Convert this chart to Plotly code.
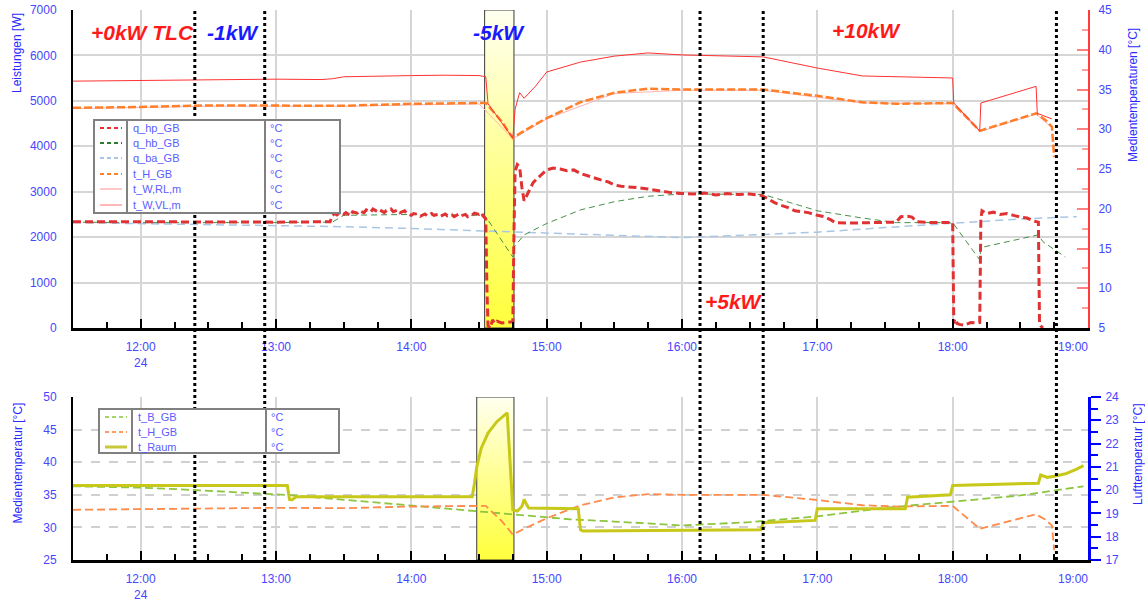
import pandas as pd
import plotly.graph_objects as go

DAY = "2024-01-24 "


def tt(times):
    full = [DAY + (t if len(t) > 5 else t + ":00") for t in times]
    return pd.to_datetime(full, format="%Y-%m-%d %H:%M:%S")


# ---------------- upper panel: powers [W] ----------------
q_hp_time = ["11:30", "12:00", "12:30", "13:00", "13:20", "13:24",
             "13:25", "13:26", "13:27", "13:28", "13:30", "13:31", "13:33", "13:34", "13:36", "13:37",
             "13:39", "13:40", "13:42", "13:43", "13:45", "13:46", "13:48", "13:49", "13:51", "13:52",
             "13:54", "13:55", "13:57", "13:58", "14:00", "14:01", "14:03", "14:04", "14:06", "14:07",
             "14:09", "14:10", "14:12", "14:13", "14:15", "14:16", "14:18", "14:19", "14:21", "14:22",
             "14:24", "14:25", "14:27", "14:28", "14:30", "14:31", "14:32", "14:33",
             "14:33:30", "14:34", "14:35", "14:36", "14:37", "14:38", "14:40", "14:42", "14:44", "14:45",
             "14:45:30", "14:46", "14:47", "14:48", "14:49", "14:50", "14:52", "14:54", "14:56", "14:58",
             "15:00", "15:03", "15:06", "15:09", "15:12", "15:15", "15:18", "15:21", "15:24", "15:27",
             "15:30", "15:33", "15:36", "15:40", "15:45", "15:50", "15:55", "16:00", "16:05", "16:10",
             "16:15", "16:20", "16:25", "16:30", "16:35", "16:38", "16:41", "16:44", "16:47", "16:50",
             "16:53", "16:56", "17:00", "17:03", "17:06", "17:08", "17:15", "17:25", "17:35", "17:37",
             "17:40", "17:42", "17:44", "17:50", "18:00", "18:00:30", "18:01", "18:02", "18:03", "18:05",
             "18:08", "18:11", "18:12", "18:12:30", "18:13", "18:15", "18:18", "18:21", "18:24", "18:27",
             "18:30", "18:33", "18:36", "18:38", "18:38:30", "18:39", "18:40"]
q_hp_GB = [2340, 2330, 2335, 2330, 2335, 2340,
           2480, 2520, 2490, 2530, 2500, 2540, 2470, 2560, 2530, 2580,
           2540, 2600, 2550, 2620, 2560, 2600, 2540, 2590, 2620, 2560,
           2600, 2540, 2580, 2520, 2480, 2520, 2500, 2460, 2510, 2470,
           2520, 2480, 2500, 2460, 2510, 2470, 2490, 2450, 2510, 2470,
           2500, 2450, 2490, 2530, 2500, 2540, 2460, 2400,
           900, 50, 0, 180, 100, 150, 110, 120, 130, 140,
           2100, 3450, 3600, 3550, 3100, 2800, 3000, 3200, 3300, 3400,
           3480, 3520, 3500, 3460, 3480, 3400, 3350, 3300, 3260, 3220,
           3150, 3120, 3100, 3090, 3060, 3020, 2980, 2960, 2950, 2970,
           2930, 2960, 2940, 2950, 2920, 2850, 2760, 2700, 2650, 2580,
           2560, 2540, 2480, 2450, 2380, 2320, 2310, 2320, 2330, 2450,
           2460, 2440, 2340, 2320, 2320, 100, 200, 100, 80, 60,
           120, 110, 120, 2400, 2580, 2520, 2550, 2500, 2520, 2480,
           2440, 2420, 2350, 2330, 100, 50, 0]

q_hb_time = ["11:30", "12:00", "13:00", "13:25", "13:30", "14:00", "14:30", "14:33", "14:45", "14:45:30",
             "14:50", "15:00", "15:15", "15:30", "15:45", "16:00", "16:36", "17:00", "17:20", "17:35",
             "18:00", "18:12", "18:12:30", "18:38", "18:40", "18:50"]
q_hb_GB = [2330, 2320, 2320, 2330, 2480, 2500, 2480, 2450, 1560, 1780,
           2050, 2300, 2600, 2780, 2900, 2950, 2940, 2580, 2420, 2320,
           2320, 1500, 1770, 2050, 1900, 1560]

q_ba_time = ["11:30", "12:00", "12:30", "13:00", "13:30", "14:00", "14:30", "15:00", "15:30", "16:00",
             "16:36", "17:00", "17:30", "18:00", "18:30", "18:55"]
q_ba_GB = [2320, 2300, 2280, 2260, 2230, 2190, 2140, 2100, 2040, 1990,
           2060, 2110, 2210, 2310, 2400, 2450]

# ---------------- media temperatures [°C] ----------------
t_H_time = ["11:30", "12:00", "12:30", "13:00", "13:30", "14:00", "14:30", "14:33", "14:40", "14:45",
            "14:50", "15:00", "15:15", "15:30", "15:45", "16:00", "16:36", "17:00", "17:20", "17:35",
            "18:00", "18:12", "18:37", "18:41", "18:44", "18:45"]
t_H_GB = [32.7, 32.8, 33.0, 33.0, 32.95, 33.2, 33.3, 33.3, 31.0, 28.9,
          29.8, 31.4, 33.4, 34.6, 35.1, 35.0, 35.0, 34.2, 33.4, 33.2,
          33.3, 29.8, 32.0, 31.2, 30.3, 26.5]

t_RL_time = ["11:30", "12:30", "13:30", "14:30", "14:45", "15:00", "15:30", "16:00", "16:36", "17:20",
             "18:00", "18:12", "18:37", "18:44"]
t_W_RL_m = [32.6, 32.9, 32.9, 33.2, 28.8, 31.3, 34.5, 34.9, 34.9, 33.3,
            33.2, 29.7, 31.9, 30.2]

t_VL_time = ["11:30", "12:00", "12:30", "13:00", "13:20", "13:25", "13:30", "13:45", "14:00", "14:15",
             "14:30", "14:33", "14:34", "14:45", "14:46", "14:48", "14:50", "14:55", "15:00", "15:15",
             "15:30", "15:45", "16:00", "16:36", "17:00", "17:20", "17:35", "17:55", "18:00", "18:00:30",
             "18:12", "18:12:30", "18:37", "18:37:30", "18:44"]
t_W_VL_m = [36.05, 36.15, 36.25, 36.3, 36.25, 36.35, 36.6, 36.7, 36.75, 36.8,
            36.75, 36.6, 33.2, 28.9, 32.5, 34.6, 33.9, 35.4, 37.2, 38.45,
            39.2, 39.6, 39.35, 39.1, 37.7, 36.7, 36.6, 36.45, 36.45, 33.3,
            29.8, 33.3, 35.4, 32.0, 31.3]

# ---------------- lower panel ----------------
t_B_time = ["11:30", "12:00", "12:17", "13:06", "13:40", "14:25", "15:10", "15:30",
            "16:00", "16:30", "17:00", "17:30", "18:00", "18:30", "18:58"]
t_B_GB = [36.3, 36.1, 35.85, 34.95, 33.95, 32.65, 31.25, 30.9,
          30.3, 30.8, 31.7, 33.0, 34.0, 34.9, 36.3]

t_Raum_time = ["11:30", "13:05", "13:06", "13:07", "13:09", "14:27", "14:28", "14:29", "14:31", "14:34",
               "14:38", "14:42", "14:42:30", "14:45", "14:47", "14:49", "14:50", "14:51", "14:52", "15:14",
               "15:15", "15:16", "16:35", "16:36", "16:59", "17:00", "17:39", "17:40", "17:59", "18:00",
               "18:38", "18:39", "18:42", "18:45", "18:50", "18:55", "18:58"]
t_Raum = [20.2, 20.2, 19.6, 19.58, 19.72, 19.72, 20.3, 21.0, 21.8, 22.45,
          22.95, 23.3, 23.32, 19.15, 19.1, 19.3, 19.6, 19.4, 19.23, 19.2,
          18.3, 18.25, 18.3, 18.6, 18.7, 19.2, 19.2, 19.7, 19.8, 20.2,
          20.3, 20.65, 20.55, 20.6, 20.7, 20.9, 21.05]

# ---------------- events ----------------
box_top_time = ["14:32:30", "14:45:30"]
box_bottom_time = ["14:29", "14:45:30"]
event_times = ["12:24", "12:55", "16:08", "16:36", "18:46"]
labels = ["+0kW TLC", "-1kW", "-5kW", "+10kW", "+5kW"]
label_time = ["12:01", "12:41", "14:39", "17:22", "16:23"]
label_watt = [6500, 6500, 6500, 6540, 580]
label_color = ["#ff1a1a", "#1a1aff", "#1a1aff", "#ff1a1a", "#ff1a1a"]

hour_ticks = ["12:00", "13:00", "14:00", "15:00", "16:00", "17:00", "18:00", "19:00"]
hour_text = ["12:00<br>24", "13:00", "14:00", "15:00", "16:00", "17:00", "18:00",
             "19:00" + "\u00a0" * 9]

FONT = "Arial, Liberation Sans, sans-serif"
BLUE_TXT = "#4646ff"

# plot area in pixels: x 73..1088, y 10..560
W, H = 1145, 602
ML, MR, MT, MB = 73, 57, 10, 42


def px_x(px):
    return (px - ML) / (W - ML - MR)


def px_y(py):
    return (H - MB - py) / (H - MT - MB)


fig = go.Figure()


def gradient_box(times, y_lo, y_hi, xa, ya):
    t = tt(times)
    fig.add_trace(go.Scatter(
        x=[t[0], t[1], t[1], t[0], t[0]], y=[y_lo, y_lo, y_hi, y_hi, y_lo],
        xaxis=xa, yaxis=ya, mode="lines", fill="toself",
        line=dict(color="#3a3a3a", width=1),
        fillgradient=dict(type="vertical",
                          colorscale=[[0, "#ffff3c"], [0.5, "#ffff90"], [1, "#fffff0"]]),
        hoverinfo="skip", showlegend=False))


gradient_box(box_top_time, 0, 7000, "x2", "y")
gradient_box(box_bottom_time, 25, 50, "x", "y3")

# upper panel series
fig.add_trace(go.Scatter(x=tt(q_ba_time), y=q_ba_GB, xaxis="x2", yaxis="y", mode="lines",
                         line=dict(color="#a9c6e6", width=1.5, dash="8px,5px"), name="q_ba_GB"))
fig.add_trace(go.Scatter(x=tt(q_hb_time), y=q_hb_GB, xaxis="x2", yaxis="y", mode="lines",
                         line=dict(color="#4a8f4a", width=1, dash="6px,4px"), name="q_hb_GB"))
fig.add_trace(go.Scatter(x=tt(q_hp_time), y=q_hp_GB, xaxis="x2", yaxis="y", mode="lines",
                         line=dict(color="#e03232", width=3, dash="8px,4px"), name="q_hp_GB"))
fig.add_trace(go.Scatter(x=tt(t_RL_time), y=t_W_RL_m, xaxis="x2", yaxis="y2", mode="lines",
                         line=dict(color="#ffb4b4", width=1), name="t_W,RL,m"))
fig.add_trace(go.Scatter(x=tt(t_H_time), y=t_H_GB, xaxis="x2", yaxis="y2", mode="lines",
                         line=dict(color="#ff7f2a", width=2.5, dash="8px,3px"), name="t_H_GB"))
fig.add_trace(go.Scatter(x=tt(t_VL_time), y=t_W_VL_m, xaxis="x2", yaxis="y2", mode="lines",
                         line=dict(color="#ff3232", width=1), name="t_W,VL,m"))

# lower panel series
fig.add_trace(go.Scatter(x=tt(t_B_time), y=t_B_GB, xaxis="x", yaxis="y3", mode="lines",
                         line=dict(color="#8cc63f", width=1.8, dash="8px,4px"), name="t_B_GB"))
fig.add_trace(go.Scatter(x=tt(t_H_time), y=t_H_GB, xaxis="x", yaxis="y3", mode="lines",
                         line=dict(color="#ff8a4c", width=1.8, dash="8px,4px"), name="t_H_GB "))
fig.add_trace(go.Scatter(x=tt(t_Raum_time), y=t_Raum, xaxis="x", yaxis="y4", mode="lines",
                         line=dict(color="#c8c81a", width=3), name="t_Raum"))

x_range = tt(["11:30", "19:00"])
tick_font = dict(family=FONT, size=12, color=BLUE_TXT)
common_x = dict(range=list(x_range), tickvals=list(tt(hour_ticks)), ticktext=hour_text,
                tickfont=tick_font, showgrid=True, gridcolor="#d6d6d6", gridwidth=2,
                showline=True, linecolor="black", linewidth=3, ticks="inside", ticklen=9,
                tickcolor="black", tickwidth=2,
                minor=dict(dtick=15 * 60 * 1000, ticks="inside", ticklen=6, tickcolor="black",
                           tickwidth=2, showgrid=False),
                zeroline=False, ticklabelstandoff=6, automargin=False)

fig.update_layout(
    width=W, height=H, margin=dict(l=ML, r=MR, t=MT, b=MB, autoexpand=False),
    paper_bgcolor="white", plot_bgcolor="white", showlegend=False,
    font=dict(family=FONT),
    xaxis=dict(domain=[0, 1], anchor="y3", **common_x),
    xaxis2=dict(domain=[0, 1], anchor="y", matches="x", **common_x),
    yaxis=dict(domain=[px_y(328), 1], anchor="x2", range=[0, 7000], dtick=1000,
               tickfont=tick_font, showgrid=True, gridcolor="#d6d6d6", gridwidth=2,
               showline=True, linecolor="black", linewidth=2, ticks="", zeroline=False,
               ticklabelstandoff=12, automargin=False),
    yaxis2=dict(anchor="x2", overlaying="y", side="right", range=[5, 45], dtick=5,
                tickfont=tick_font, showgrid=False, showline=True, linecolor="#ff3c3c",
                linewidth=2, ticks="inside", ticklen=11, tickcolor="#ff8080", tickwidth=2,
                minor=dict(dtick=2.5, ticks="inside", ticklen=6, tickcolor="#ffa0a0", tickwidth=2),
                zeroline=False, ticklabelstandoff=6, automargin=False),
    yaxis3=dict(domain=[0, px_y(397)], anchor="x", range=[25, 50], dtick=5,
                tickfont=tick_font, showgrid=True, gridcolor="#d0d0d0", griddash="dash",
                gridwidth=1.5, showline=True, linecolor="black", linewidth=2, ticks="",
                zeroline=False, ticklabelstandoff=12, automargin=False),
    yaxis4=dict(anchor="x", overlaying="y3", side="right", range=[17, 24], dtick=1,
                tickfont=tick_font, showgrid=False, showline=True, linecolor="#0000ff",
                linewidth=3, ticks="outside", ticklen=10, tickcolor="#0000ff", tickwidth=2,
                minor=dict(dtick=0.5, ticks="outside", ticklen=7, tickcolor="#0000ff", tickwidth=2),
                zeroline=False, ticklabelstandoff=2, automargin=False),
)

shapes = []
# event markers across both panels
for t in tt(event_times):
    shapes.append(dict(type="line", xref="x", yref="paper", x0=t, x1=t,
                       y0=px_y(560), y1=px_y(10),
                       line=dict(color="black", width=3, dash="dot")))

annotations = []
for txt, t, wv, col in zip(labels, tt(label_time), label_watt, label_color):
    annotations.append(dict(text=txt, x=t, y=wv, xref="x2", yref="y", showarrow=False,
                            font=dict(family=FONT, size=21, color=col, weight="bold", style="italic")))

# axis titles
title_font = dict(family=FONT, size=12, color="#2a2aff")
annotations += [
    dict(text="Leistungen [W]", textangle=-90, x=px_x(17), y=px_y(11), xref="paper", yref="paper",
         xanchor="center", yanchor="top", showarrow=False, font=title_font),
    dict(text="Medientemperaturen [°C]", textangle=-90, x=px_x(1133), y=px_y(26), xref="paper",
         yref="paper", xanchor="center", yanchor="top", showarrow=False, font=title_font),
    dict(text="Medientemperatur [°C]", textangle=-90, x=px_x(17), y=px_y(401), xref="paper",
         yref="paper", xanchor="center", yanchor="top", showarrow=False, font=title_font),
    dict(text="Lufttemperatur [°C]", textangle=-90, x=px_x(1138), y=px_y(401), xref="paper",
         yref="paper", xanchor="center", yanchor="top", showarrow=False, font=title_font),
]

# legend tables
leg_font = dict(family=FONT, size=11, color="#5c5cff")


def legend_table(x0, x1, y0, y1, d1, d2, rows, entries):
    shapes.append(dict(type="rect", xref="paper", yref="paper", x0=px_x(x0), x1=px_x(x1),
                       y0=px_y(y1), y1=px_y(y0), fillcolor="white",
                       line=dict(color="#808080", width=2)))
    for d in (d1, d2):
        shapes.append(dict(type="line", xref="paper", yref="paper", x0=px_x(d), x1=px_x(d),
                           y0=px_y(y1), y1=px_y(y0), line=dict(color="#808080", width=2)))
    for ry, (name, color, width, dash) in zip(rows, entries):
        shapes.append(dict(type="line", xref="paper", yref="paper", x0=px_x(x0 + 6),
                           x1=px_x(d1 - 5), y0=px_y(ry), y1=px_y(ry),
                           line=dict(color=color, width=width, dash=dash)))
        annotations.append(dict(text=name, x=px_x(d1 + 4), y=px_y(ry), xref="paper", yref="paper",
                                xanchor="left", yanchor="middle", showarrow=False, font=leg_font))
        annotations.append(dict(text="°C", x=px_x(d2 + 3), y=px_y(ry), xref="paper", yref="paper",
                                xanchor="left", yanchor="middle", showarrow=False, font=leg_font))


legend_table(94, 340, 120, 213, 127, 265, [128, 143, 158, 174, 189, 205], [
    ("q_hp_GB", "#e03232", 2, "4px,3px"),
    ("q_hb_GB", "#2e7d2e", 2, "4px,3px"),
    ("q_ba_GB", "#a9c6e6", 2, "4px,3px"),
    ("t_H_GB", "#ff7f2a", 2, "4px,3px"),
    ("t_W,RL,m", "#ffc8c8", 2, "solid"),
    ("t_W,VL,m", "#ff7070", 1, "solid"),
])
legend_table(99, 339, 409, 453, 132, 266, [417, 432, 447], [
    ("t_B_GB", "#a6d468", 2, "4px,3px"),
    ("t_H_GB", "#ff9a66", 2, "4px,3px"),
    ("t_Raum", "#c8c83c", 3, "solid"),
])

fig.update_layout(shapes=shapes, annotations=annotations)
fig.write_html("out.html")
